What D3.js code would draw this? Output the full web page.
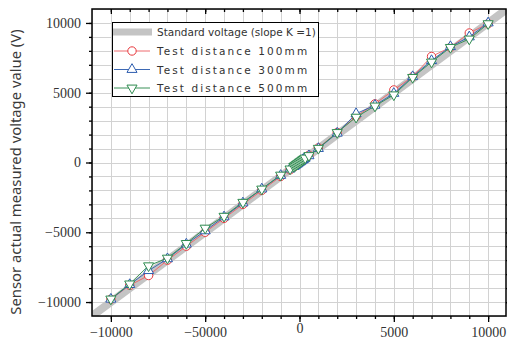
<!DOCTYPE html>
<html>
<head>
<meta charset="utf-8">
<script src="https://cdn.jsdelivr.net/npm/d3@7"></script>
<style>
  html, body { margin: 0; padding: 0; background: #fff; }
  svg { display: block; }
</style>
</head>
<body>
<div id="chart"></div>
<script>
// input voltage (x) and measured voltage for each test distance
const inputVoltage = [-10000, -9000, -8000, -7000, -6000, -5000, -4000, -3000, -2000, -1000, -500,
  -300, -250, -200, -150, -100, -50, 0, 50, 100, 150, 200, 250, 300,
  500, 1000, 2000, 3000, 4000, 5000, 6000, 7000, 8000, 9000, 10000];
const dist100 = [-9800, -8800, -8100, -7000, -6000, -5000, -4000, -3000, -2000, -1000, -520,
  -310, -255, -205, -150, -100, -50, 0, 50, 100, 150, 200, 255, 310,
  520, 1050, 2150, 3300, 4200, 5200, 6150, 7600, 8250, 9280, 9950];
const dist300 = [-9800, -8750, -7750, -6900, -5850, -4900, -3900, -2900, -1900, -930, -470,
  -290, -240, -190, -140, -90, -40, 10, 60, 110, 160, 210, 260, 310,
  480, 1000, 2100, 3500, 4100, 4950, 6150, 7300, 8300, 9000, 10000];
const dist500 = [-9780, -8700, -7400, -6850, -5800, -4700, -3850, -2850, -1900, -900, -460,
  -280, -230, -180, -130, -80, -30, 20, 70, 120, 170, 220, 270, 320,
  500, 1020, 2150, 3250, 4050, 4850, 6100, 7200, 8250, 8850, 9950];
const standardLine = [-11000, 11000];
const majorTicks = [-10000, -5000, 0, 5000, 10000];
const xTickLabels = ['\u221210000', '\u221250000', '0', '5000', '10000'];
const yTickLabels = ['\u221210000', '\u22125000', '0', '5000', '10000'];
const minorTicks = [-11000, -10000, -9000, -8000, -7000, -6000, -5000, -4000, -3000, -2000, -1000, 0,
  1000, 2000, 3000, 4000, 5000, 6000, 7000, 8000, 9000, 10000, 11000];

const series = [
  { name: 'Test distance 100mm', values: dist100, color: '#e8383d', line: '#ee6b6e', marker: 'circle' },
  { name: 'Test distance 300mm', values: dist300, color: '#2c5cae', line: '#3d69b4', marker: 'up' },
  { name: 'Test distance 500mm', values: dist500, color: '#2e8b4f', line: '#3b9159', marker: 'down' }
];

const W = 507, H = 343;
const svg = d3.select('#chart').append('svg').attr('width', W).attr('height', H);

const x = d3.scaleLinear().domain([-11000, 11000]).range([92, 507]);
const y = d3.scaleLinear().domain([-11000, 11000]).range([316, 9]);

svg.append('defs').append('clipPath').attr('id', 'clip')
  .append('rect').attr('x', 92).attr('y', 9).attr('width', 415).attr('height', 307);

// grid
const grid = svg.append('g').attr('stroke', '#d2d2d2').attr('stroke-width', 1);
grid.selectAll('.gx').data(minorTicks).enter().append('line')
  .attr('x1', d => Math.round(x(d)) + 0.5).attr('x2', d => Math.round(x(d)) + 0.5)
  .attr('y1', 9).attr('y2', 316);
grid.selectAll('.gy').data(minorTicks).enter().append('line')
  .attr('y1', d => Math.round(y(d)) + 0.5).attr('y2', d => Math.round(y(d)) + 0.5)
  .attr('x1', 92).attr('x2', 507);

const plot = svg.append('g').attr('clip-path', 'url(#clip)');

// standard line (slope K = 1)
plot.append('line')
  .attr('x1', x(standardLine[0])).attr('y1', y(standardLine[0]))
  .attr('x2', x(standardLine[1])).attr('y2', y(standardLine[1]))
  .attr('stroke', '#c4c4c4').attr('stroke-width', 8);

const triUp = d3.symbol().type(d3.symbolTriangle).size(44);

function drawMarker(g, type, color) {
  if (type === 'circle') {
    g.append('circle').attr('r', 4.2).attr('fill', 'white').attr('stroke', color).attr('stroke-width', 1);
  } else {
    g.append('path').attr('d', triUp())
      .attr('transform', type === 'down' ? 'rotate(180)' : null)
      .attr('fill', 'white').attr('stroke', color).attr('stroke-width', 1);
  }
}

series.forEach(s => {
  const line = d3.line().x((d, i) => x(inputVoltage[i])).y(d => y(d));
  plot.append('path').datum(s.values).attr('d', line)
    .attr('fill', 'none').attr('stroke', s.line).attr('stroke-width', 1);
  s.values.forEach((v, i) => {
    const g = plot.append('g').attr('transform', `translate(${x(inputVoltage[i])},${y(v)})`);
    drawMarker(g, s.marker, s.color);
  });
});

// axes
const tickFont = '"Liberation Serif", "DejaVu Serif", serif';
const inner = minorTicks.filter(d => Math.abs(d) < 11000);
svg.append('g').attr('transform', 'translate(0,316)')
  .call(d3.axisBottom(x).tickValues(inner).tickSize(3).tickFormat(''));
const axB2 = svg.append('g').attr('transform', 'translate(0,316)')
  .call(d3.axisBottom(x).tickValues(majorTicks).tickSize(6).tickPadding(5)
    .tickFormat((d, i) => xTickLabels[i]));
axB2.selectAll('text').attr('font-family', tickFont).attr('font-size', 14).attr('fill', '#333')
  .attr('dy', (d) => d === 0 ? '0.45em' : '0.71em');

svg.append('g').attr('transform', 'translate(0,9)')
  .call(d3.axisBottom(x).tickValues(inner).tickSize(3).tickFormat(''));
svg.append('g').attr('transform', 'translate(0,9)')
  .call(d3.axisBottom(x).tickValues(majorTicks).tickSize(5).tickFormat(''));

svg.append('g').attr('transform', 'translate(92,0)')
  .call(d3.axisLeft(y).tickValues(inner).tickSize(3).tickFormat(''));
const axL2 = svg.append('g').attr('transform', 'translate(92,0)')
  .call(d3.axisLeft(y).tickValues(majorTicks).tickSize(6).tickPadding(5)
    .tickFormat((d, i) => yTickLabels[i]));
axL2.selectAll('text').attr('font-family', tickFont).attr('font-size', 14).attr('fill', '#333');

svg.append('g').attr('transform', 'translate(506,0)')
  .call(d3.axisLeft(y).tickValues(inner).tickSize(-3).tickFormat(''));
svg.append('g').attr('transform', 'translate(506,0)')
  .call(d3.axisLeft(y).tickValues(majorTicks).tickSize(-5).tickFormat(''));

svg.selectAll('.domain').remove();
svg.selectAll('.tick line').attr('stroke', '#000').attr('stroke-width', 1.3);

// spines
svg.append('rect').attr('x', 92).attr('y', 9).attr('width', 414).attr('height', 307)
  .attr('fill', 'none').attr('stroke', '#000').attr('stroke-width', 1.5);

// y title
svg.append('text')
  .attr('transform', 'translate(21,172) rotate(-90)')
  .attr('text-anchor', 'middle')
  .attr('font-family', '"Noto Sans", sans-serif').attr('font-size', 14.8).attr('fill', '#3a3a3a')
  .text('Sensor actual measured voltage value (V)');

// legend
const lg = svg.append('g');
lg.append('rect').attr('x', 112.5).attr('y', 22.5).attr('width', 206).attr('height', 74)
  .attr('fill', 'white').attr('stroke', '#000').attr('stroke-width', 1);
lg.append('line').attr('x1', 113).attr('x2', 152).attr('y1', 32).attr('y2', 32)
  .attr('stroke', '#c4c4c4').attr('stroke-width', 7);
lg.append('text').attr('x', 157).attr('y', 36)
  .attr('font-family', '"DejaVu Sans", sans-serif').attr('font-size', 10.5).attr('fill', '#333')
  .text('Standard voltage (slope K =1)');
series.forEach((s, i) => {
  const yy = 51 + i * 18.5;
  lg.append('line').attr('x1', 114).attr('x2', 150).attr('y1', yy).attr('y2', yy)
    .attr('stroke', s.line).attr('stroke-width', 1);
  const g = lg.append('g').attr('transform', `translate(132,${yy})`);
  drawMarker(g, s.marker, s.color);
  lg.append('text').attr('x', 157).attr('y', yy + 4)
    .attr('font-family', '"DejaVu Sans", sans-serif').attr('font-size', 10.5).attr('fill', '#333')
    .attr('letter-spacing', 2.1)
    .text(s.name);
});
</script>
</body>
</html>
